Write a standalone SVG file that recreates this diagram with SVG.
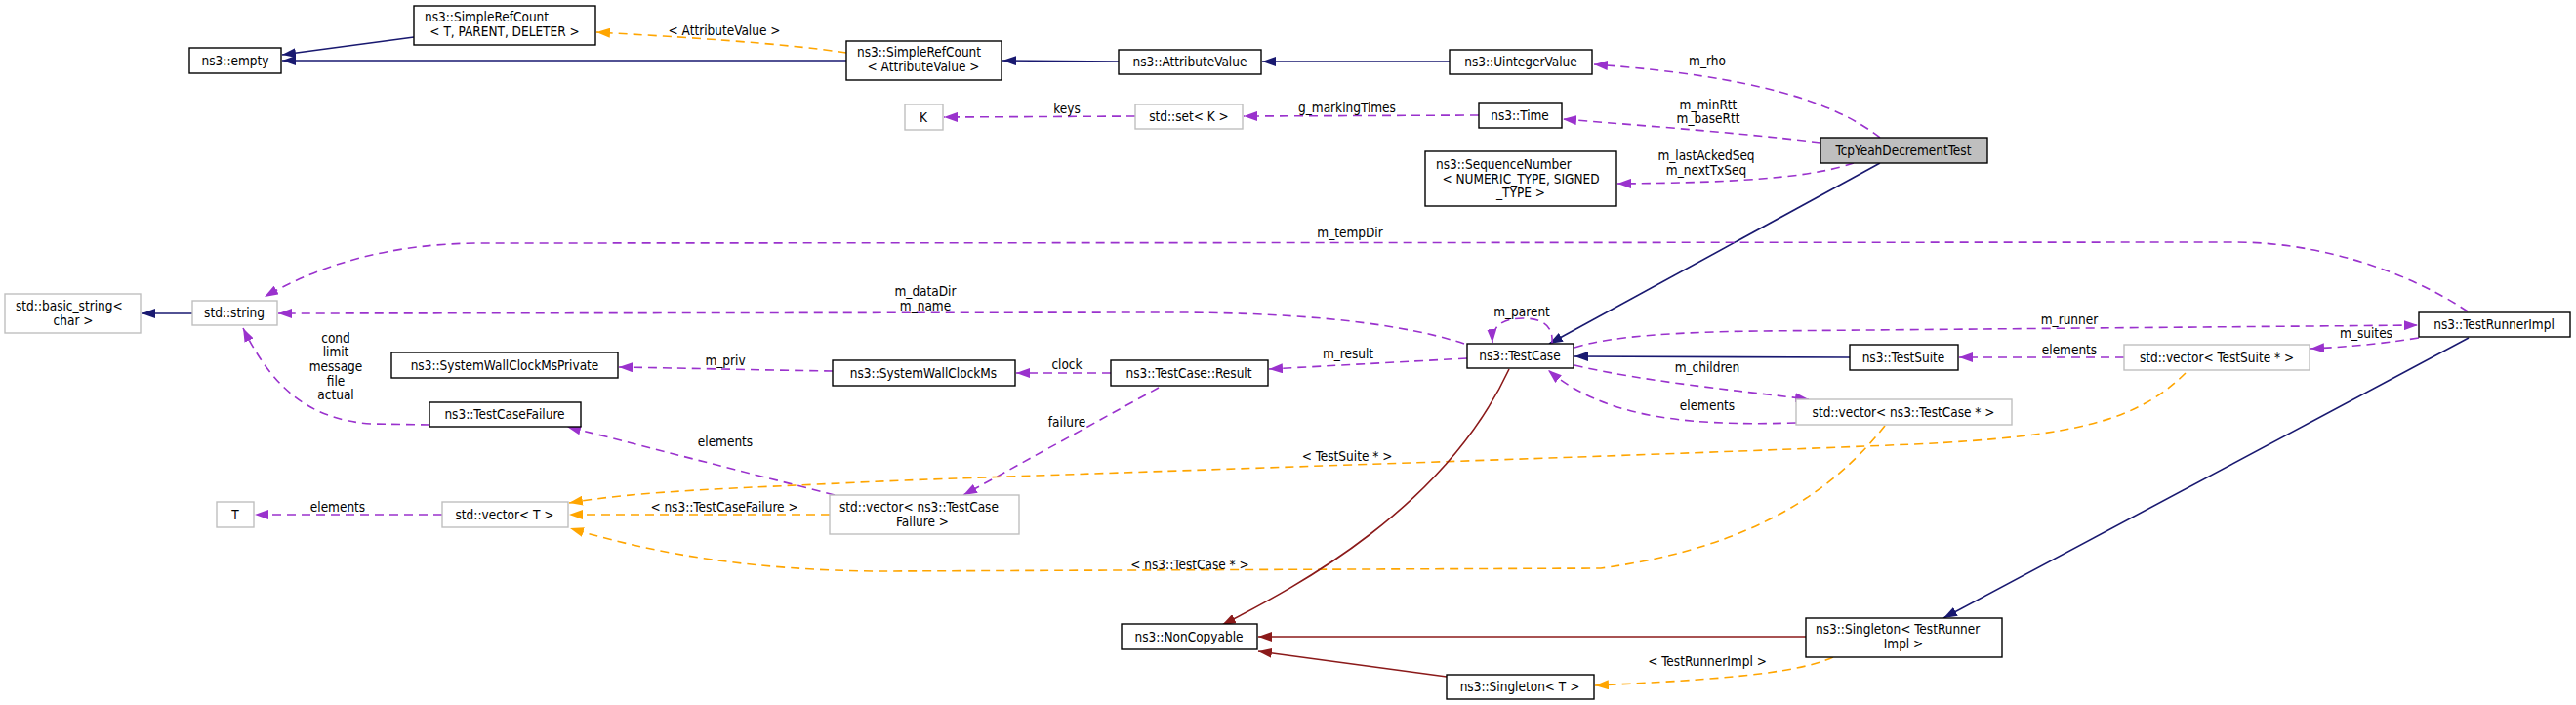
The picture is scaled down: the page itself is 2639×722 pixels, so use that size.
<svg xmlns="http://www.w3.org/2000/svg" width="2639" height="722" viewBox="0 0 2639 722">
<style>
text{font-family:"DejaVu Sans Condensed","Liberation Sans",Arial,sans-serif;font-stretch:condensed;font-size:13.5px;fill:#000}
.c{text-anchor:middle}
.s{text-anchor:start}
.nb{fill:#fff;stroke:#000;stroke-width:1.4}
.ng{fill:#fff;stroke:#bfbfbf;stroke-width:1.4}
.nf{fill:#bfbfbf;stroke:#000;stroke-width:1.4}
.e{fill:none;stroke-width:1.6}
.nv{stroke:#191970}
.pu{stroke:#9a32cd;stroke-dasharray:9,6}
.or{stroke:#ffa500;stroke-dasharray:9,6}
.rd{stroke:#8b1a1a}
</style>
<defs>
<marker id="aN" markerWidth="14" markerHeight="10" refX="14" refY="5" orient="auto" markerUnits="userSpaceOnUse"><path d="M0,0L14,5L0,10z" fill="#191970"/></marker>
<marker id="aP" markerWidth="14" markerHeight="10" refX="14" refY="5" orient="auto" markerUnits="userSpaceOnUse"><path d="M0,0L14,5L0,10z" fill="#9a32cd"/></marker>
<marker id="aO" markerWidth="14" markerHeight="10" refX="14" refY="5" orient="auto" markerUnits="userSpaceOnUse"><path d="M0,0L14,5L0,10z" fill="#ffa500"/></marker>
<marker id="aR" markerWidth="14" markerHeight="10" refX="14" refY="5" orient="auto" markerUnits="userSpaceOnUse"><path d="M0,0L14,5L0,10z" fill="#8b1a1a"/></marker>
</defs>
<rect width="2639" height="722" fill="#fff"/>
<g id="connectors">
<path class="e nv" marker-end="url(#aN)" d="M424,38L289,56"/>
<path class="e nv" marker-end="url(#aN)" d="M867,62L289,62"/>
<path class="e or" marker-end="url(#aO)" d="M867,54C800,44 700,38 611,33"/>
<path class="e nv" marker-end="url(#aN)" d="M1146,63L1027,62"/>
<path class="e nv" marker-end="url(#aN)" d="M1485,63L1293,63"/>
<path class="e pu" marker-end="url(#aP)" d="M1926,141C1880,105 1800,78 1633,66"/>
<path class="e pu" marker-end="url(#aP)" d="M1865,146C1780,136 1700,130 1601,122"/>
<path class="e pu" marker-end="url(#aP)" d="M1899,167C1860,180 1800,187 1657,188"/>
<path class="e pu" marker-end="url(#aP)" d="M1515,118L1274,119"/>
<path class="e pu" marker-end="url(#aP)" d="M1163,119L967,120"/>
<path class="e nv" marker-end="url(#aN)" d="M1926,167L1587,352"/>
<path class="e nv" marker-end="url(#aN)" d="M197,321L145,321"/>
<path class="e pu" marker-end="url(#aP)" d="M2528,319C2470,280 2380,248 2290,248L488,249C400,250 330,270 271,304"/>
<path class="e pu" marker-end="url(#aP)" d="M1500,352C1420,326 1300,320 1200,320L285,321"/>
<path class="e pu" marker-end="url(#aP)" d="M1590,352C1592,330 1575,326 1560,326C1542,326 1528,332 1529,351"/>
<path class="e pu" marker-end="url(#aP)" d="M1503,367L1300,378"/>
<path class="e pu" marker-end="url(#aP)" d="M1138,382L1041,382"/>
<path class="e pu" marker-end="url(#aP)" d="M853,380C780,379 700,377 634,376"/>
<path class="e pu" marker-end="url(#aP)" d="M440,435L380,434C320,430 280,400 249,336"/>
<path class="e pu" marker-end="url(#aP)" d="M855,507L581,437"/>
<path class="e pu" marker-end="url(#aP)" d="M1187,397L987,507"/>
<path class="e pu" marker-end="url(#aP)" d="M1613,356C1650,344 1720,340 1800,339L2477,333"/>
<path class="e nv" marker-end="url(#aN)" d="M1895,366L1613,365"/>
<path class="e pu" marker-end="url(#aP)" d="M2176,366L2007,366"/>
<path class="e pu" marker-end="url(#aP)" d="M2478,346C2440,352 2410,355 2367,357"/>
<path class="e pu" marker-end="url(#aP)" d="M1613,374C1680,390 1780,400 1853,409"/>
<path class="e pu" marker-end="url(#aP)" d="M1840,433C1720,437 1640,425 1586,379"/>
<path class="e or" marker-end="url(#aO)" d="M2239,382C2190,430 2130,447 1960,455C1600,470 1000,488 880,494C760,500 660,502 583,515"/>
<path class="e or" marker-end="url(#aO)" d="M850,527L583,527"/>
<path class="e or" marker-end="url(#aO)" d="M1931,436C1880,500 1800,560 1640,582L900,585C780,584 680,570 584,541"/>
<path class="e pu" marker-end="url(#aP)" d="M453,527L261,527"/>
<path class="e rd" marker-end="url(#aR)" d="M1546,378C1480,520 1330,600 1252,640"/>
<path class="e rd" marker-end="url(#aR)" d="M1850,652L1289,652"/>
<path class="e rd" marker-end="url(#aR)" d="M1482,693L1289,667"/>
<path class="e nv" marker-end="url(#aN)" d="M2529,346L1991,633"/>
<path class="e or" marker-end="url(#aO)" d="M1878,673C1840,690 1760,696 1634,702"/>
<text class="c" x="742" y="36">&lt; AttributeValue &gt;</text>
<text class="c" x="1749" y="67">m_rho</text>
<text class="c" x="1750" y="112">m_minRtt</text>
<text class="c" x="1750" y="126">m_baseRtt</text>
<text class="c" x="1748" y="164">m_lastAckedSeq</text>
<text class="c" x="1748" y="179">m_nextTxSeq</text>
<text class="c" x="1093" y="116">keys</text>
<text class="c" x="1380" y="115">g_markingTimes</text>
<text class="c" x="1383" y="243">m_tempDir</text>
<text class="c" x="948" y="303">m_dataDir</text>
<text class="c" x="948" y="318">m_name</text>
<text class="c" x="1559" y="324">m_parent</text>
<text class="c" x="2120" y="332">m_runner</text>
<text class="c" x="2424" y="346">m_suites</text>
<text class="c" x="2120" y="363">elements</text>
<text class="c" x="1381" y="367">m_result</text>
<text class="c" x="1093" y="378">clock</text>
<text class="c" x="743" y="374">m_priv</text>
<text class="c" x="1749" y="381">m_children</text>
<text class="c" x="1749" y="420">elements</text>
<text class="c" x="344" y="351">cond</text>
<text class="c" x="344" y="365">limit</text>
<text class="c" x="344" y="380">message</text>
<text class="c" x="344" y="395">file</text>
<text class="c" x="344" y="409">actual</text>
<text class="c" x="1093" y="437">failure</text>
<text class="c" x="743" y="457">elements</text>
<text class="c" x="1380" y="472">&lt; TestSuite * &gt;</text>
<text class="c" x="346" y="524">elements</text>
<text class="c" x="742" y="524">&lt; ns3::TestCaseFailure &gt;</text>
<text class="c" x="1219" y="583">&lt; ns3::TestCase * &gt;</text>
<text class="c" x="1749" y="682">&lt; TestRunnerImpl &gt;</text>
</g>
<g id="n_empty"><rect class="nb" x="194" y="49" width="94" height="26"/><text class="c" x="241" y="67">ns3::empty</text></g>
<g id="n_srcTPD"><rect class="nb" x="424" y="6" width="186" height="40"/><text class="s" x="435" y="22">ns3::SimpleRefCount</text><text class="c" x="517" y="37">&lt; T, PARENT, DELETER &gt;</text></g>
<g id="n_srcAV"><rect class="nb" x="867" y="42" width="159" height="40"/><text class="s" x="878" y="58">ns3::SimpleRefCount</text><text class="c" x="946" y="73">&lt; AttributeValue &gt;</text></g>
<g id="n_attr"><rect class="nb" x="1146" y="51" width="146" height="25"/><text class="c" x="1219" y="68">ns3::AttributeValue</text></g>
<g id="n_uint"><rect class="nb" x="1485" y="51" width="146" height="25"/><text class="c" x="1558" y="68">ns3::UintegerValue</text></g>
<g id="n_K"><rect class="ng" x="927" y="107" width="39" height="26"/><text class="c" x="946" y="125">K</text></g>
<g id="n_set"><rect class="ng" x="1163" y="107" width="110" height="25"/><text class="c" x="1218" y="124">std::set&lt; K &gt;</text></g>
<g id="n_time"><rect class="nb" x="1515" y="105" width="85" height="26"/><text class="c" x="1557" y="123">ns3::Time</text></g>
<g id="n_seq"><rect class="nb" x="1460" y="155" width="196" height="56"/><text class="s" x="1471" y="173">ns3::SequenceNumber</text><text class="c" x="1558" y="188">&lt; NUMERIC_TYPE, SIGNED</text><text class="c" x="1558" y="202">_TYPE &gt;</text></g>
<g id="n_tcpyeah"><rect class="nf" x="1865" y="141" width="171" height="26"/><text class="c" x="1950" y="159">TcpYeahDecrementTest</text></g>
<g id="n_basic"><rect class="ng" x="5" y="301" width="139" height="40"/><text class="s" x="16" y="318">std::basic_string&lt;</text><text class="c" x="75" y="333">char &gt;</text></g>
<g id="n_string"><rect class="ng" x="197" y="308" width="87" height="25"/><text class="c" x="240" y="325">std::string</text></g>
<g id="n_swcmp"><rect class="nb" x="401" y="361" width="232" height="26"/><text class="c" x="517" y="379">ns3::SystemWallClockMsPrivate</text></g>
<g id="n_tcf"><rect class="nb" x="440" y="412" width="155" height="25"/><text class="c" x="517" y="429">ns3::TestCaseFailure</text></g>
<g id="n_swcm"><rect class="nb" x="853" y="369" width="187" height="26"/><text class="c" x="946" y="387">ns3::SystemWallClockMs</text></g>
<g id="n_result"><rect class="nb" x="1138" y="369" width="161" height="26"/><text class="c" x="1218" y="387">ns3::TestCase::Result</text></g>
<g id="n_testcase"><rect class="nb" x="1503" y="352" width="109" height="25"/><text class="c" x="1557" y="369">ns3::TestCase</text></g>
<g id="n_testsuite"><rect class="nb" x="1895" y="353" width="111" height="26"/><text class="c" x="1950" y="371">ns3::TestSuite</text></g>
<g id="n_vts"><rect class="ng" x="2176" y="353" width="190" height="26"/><text class="c" x="2271" y="371">std::vector&lt; TestSuite * &gt;</text></g>
<g id="n_runner"><rect class="nb" x="2478" y="320" width="155" height="25"/><text class="c" x="2555" y="337">ns3::TestRunnerImpl</text></g>
<g id="n_vtc"><rect class="ng" x="1840" y="409" width="221" height="26"/><text class="c" x="1950" y="427">std::vector&lt; ns3::TestCase * &gt;</text></g>
<g id="n_T"><rect class="ng" x="222" y="514" width="38" height="26"/><text class="c" x="241" y="532">T</text></g>
<g id="n_vT"><rect class="ng" x="453" y="514" width="129" height="26"/><text class="c" x="517" y="532">std::vector&lt; T &gt;</text></g>
<g id="n_vtcf"><rect class="ng" x="850" y="507" width="194" height="40"/><text class="s" x="860" y="524">std::vector&lt; ns3::TestCase</text><text class="c" x="945" y="539">Failure &gt;</text></g>
<g id="n_noncopy"><rect class="nb" x="1149" y="639" width="139" height="26"/><text class="c" x="1218" y="657">ns3::NonCopyable</text></g>
<g id="n_singT"><rect class="nb" x="1482" y="691" width="151" height="25"/><text class="c" x="1557" y="708">ns3::Singleton&lt; T &gt;</text></g>
<g id="n_singR"><rect class="nb" x="1850" y="633" width="201" height="40"/><text class="s" x="1860" y="649">ns3::Singleton&lt; TestRunner</text><text class="c" x="1950" y="664">Impl &gt;</text></g>
</svg>
